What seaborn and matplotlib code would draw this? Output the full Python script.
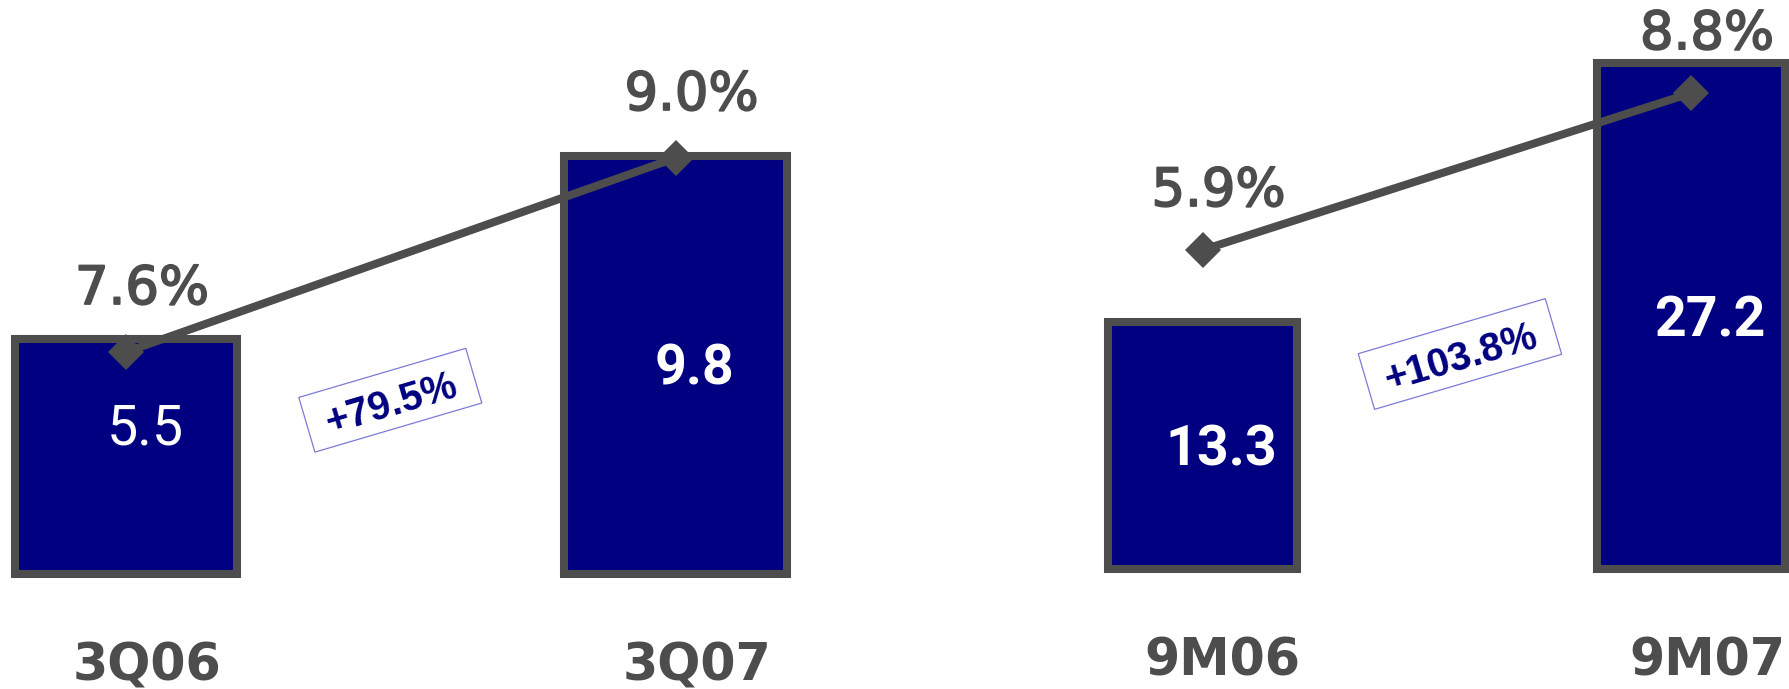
import numpy as np
import pandas as pd
import matplotlib
matplotlib.use("Agg")
import matplotlib.pyplot as plt
import matplotlib.transforms as mtransforms
import matplotlib.patheffects as pe
from matplotlib.patches import Rectangle
import seaborn as sns

# Quarterly comparison
periods_q = ["3Q06", "3Q07"]
revenue_q = [5.5, 9.8]
margin_q = [7.6, 9.0]
growth_q = "+79.5%"

# Nine-month comparison
periods_9m = ["9M06", "9M07"]
revenue_9m = [13.3, 27.2]
margin_9m = [5.9, 8.8]
growth_9m = "+103.8%"

NAVY = "#000080"
GREY = "#4d4d4d"
BOX_EDGE = "#7b7bd6"

W, H = 1789, 689
sns.set_style("white")
plt.rcParams["font.family"] = ["DejaVu Sans"]

fig = plt.figure(figsize=(W / 100, H / 100), dpi=100)


def draw_panel(rect, periods, revenue, margin, growth, xlim, ylim_bar, ylim_line,
               bar_width, value_nudge, pct_rise, growth_xy, box_size, cat_pos):
    ax = fig.add_axes(rect)
    df = pd.DataFrame({"period": periods, "revenue": revenue, "margin": margin})
    sns.barplot(data=df, x="period", y="revenue", ax=ax, color=NAVY,
                saturation=1, width=bar_width, edgecolor=GREY, linewidth=5.8,
                errorbar=None)

    ax2 = ax.twinx()
    sns.pointplot(data=df, x="period", y="margin", ax=ax2, color=GREY,
                  markers="D", linestyles="-", errorbar=None,
                  markersize=18, markeredgewidth=0, linewidth=5.8)

    ax.set_xlim(*xlim)
    ax.set_ylim(*ylim_bar)
    ax2.set_ylim(*ylim_line)
    for a in (ax, ax2):
        a.set_axis_off()

    # value inside each bar
    for i, (v, dy) in enumerate(zip(revenue, value_nudge)):
        ax.annotate(f"{v:.1f}", xy=(i, v / 2), xytext=(19, dy - 20),
                    textcoords="offset pixels", ha="center", va="baseline",
                    color="white", fontsize=40, family="Roboto",
                    fontweight="normal" if v < 6 else "bold",
                    zorder=6)

    # margin above each marker, in a medium weight
    medium = [pe.withStroke(linewidth=1.3, foreground=GREY)]
    for i, m in enumerate(margin):
        ax2.annotate(f"{m:.1f}%", xy=(i, m), xytext=(16, pct_rise),
                     textcoords="offset pixels", ha="center", va="baseline",
                     color=GREY, fontsize=38, path_effects=medium,
                     annotation_clip=False)

    # period names under the bars
    for i, p in enumerate(periods):
        dx, base = cat_pos[i]
        ax.annotate(p, xy=(i, 0), xycoords=ax.get_xaxis_transform(),
                    xytext=(dx, base), textcoords="offset pixels",
                    ha="center", va="baseline", color=GREY, fontsize=36.5,
                    fontweight="bold", annotation_clip=False)

    # growth badge between the bars
    gx, gy = growth_xy
    bw, bh = box_size
    angle = 16.4
    badge = Rectangle((-bw / 2, -bh / 2), bw, bh, facecolor="white",
                      edgecolor=BOX_EDGE, linewidth=0.9, zorder=4,
                      clip_on=False,
                      transform=mtransforms.Affine2D().rotate_deg(angle)
                      + mtransforms.ScaledTranslation(gx, gy, ax.transData))
    ax.add_artist(badge)
    ax.text(gx, gy, growth, rotation=angle, rotation_mode="anchor",
            ha="center", va="center_baseline", color=NAVY, fontsize=28.5,
            fontweight="bold", family="Liberation Sans", zorder=5)
    return ax, ax2


# left panel: bar centres at 126 px and 675.5 px, 549.5 px apart
draw_panel([0, 0, 830 / W, 1], periods_q, revenue_q, margin_q, growth_q,
           xlim=(-126 / 549.5, (830 - 126) / 549.5),
           ylim_bar=(-115 / 42.7, (H - 115) / 42.7),
           ylim_line=(7.6 - 337 / 138.6, 7.6 + (H - 337) / 138.6),
           bar_width=0.405, value_nudge=[32, 0], pct_rise=48,
           growth_xy=(0.481, 4.07), box_size=(174, 57),
           cat_pos=[(21, 9), (21, 9)])

# right panel: bar centres at 1202.5 px and 1691 px
draw_panel([1000 / W, 0, (W - 1000) / W, 1], periods_9m, revenue_9m, margin_9m,
           growth_9m,
           xlim=((1000 - 1202.5) / 488.5, (W - 1202.5) / 488.5),
           ylim_bar=(-120 / 18.6, (H - 120) / 18.6),
           ylim_line=(5.9 - 439 / 54.1, 5.9 + (H - 439) / 54.1),
           bar_width=0.385, value_nudge=[0, 0], pct_rise=44,
           growth_xy=(0.527, 11.56), box_size=(195, 58),
           cat_pos=[(20, 14), (16, 14)])

fig.savefig("out.png", dpi=100, facecolor="white")
